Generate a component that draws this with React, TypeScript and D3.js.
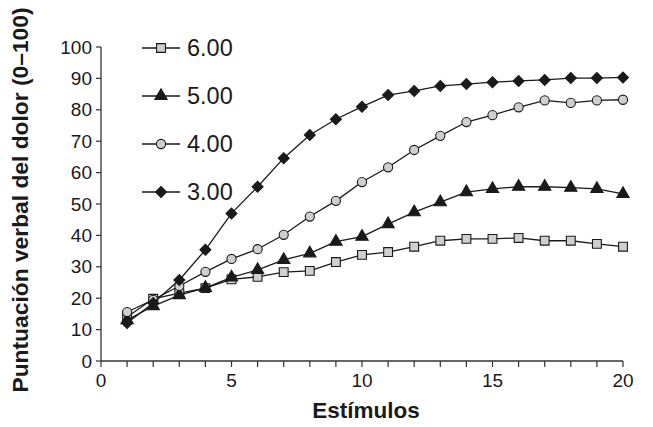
import * as d3 from 'd3'

const estimulos = d3.range(1, 21)
const s600 = [14, 19.8, 21.6, 23.2, 26, 26.8, 28.3, 28.7, 31.5, 33.8, 34.7, 36.4, 38.3, 38.9, 38.9, 39.2, 38.3, 38.3, 37.3, 36.4]
const s500 = [13, 17.5, 21, 23.3, 26.6, 29, 32.2, 34.3, 38, 39.6, 43.6, 47.4, 50.6, 53.8, 54.8, 55.5, 55.5, 55.2, 54.8, 53.2]
const s400 = [15.6, 19.5, 23.9, 28.4, 32.5, 35.6, 40.2, 46, 51, 57, 61.7, 67.2, 71.7, 76.1, 78.3, 80.8, 83, 82.2, 83, 83.2]
const s300 = [12.1, 18.5, 25.8, 35.4, 47, 55.5, 64.6, 72, 77, 81, 84.7, 86, 87.6, 88.2, 88.8, 89.2, 89.5, 90.1, 90.1, 90.3]
const seriesNames = ['6.00', '5.00', '4.00', '3.00']
const xTicks = [0, 5, 10, 15, 20]
const yTicks = d3.range(0, 101, 10)

const W = 653
const H = 427
const FONT = '"Liberation Sans", Arial, Helvetica, sans-serif'
const INK = '#1a1a1a'

const x = d3.scaleLinear().domain([0, 20]).range([101, 623])
const y = d3.scaleLinear().domain([0, 100]).range([361, 47])

// marker styles per series
const markers: { type: d3.SymbolType; size: number; fill: string; rot: number }[] = [
    { type: d3.symbolSquare, size: 78, fill: '#cfcfcf', rot: 0 },
    { type: d3.symbolTriangle, size: 66, fill: INK, rot: 0 },
    { type: d3.symbolCircle, size: 66, fill: '#cfcfcf', rot: 0 },
    { type: d3.symbolSquare, size: 60, fill: INK, rot: 45 },
]

const Marker = ({ i, cx, cy }: { i: number; cx: number; cy: number }) => {
    const m = markers[i]
    const d = d3.symbol().type(m.type).size(m.size)()
    return <path d={d || ''} transform={`translate(${cx},${cy}) rotate(${m.rot})`}
        fill={m.fill} stroke={INK} strokeWidth={1.1} />
}

const Series = ({ vals, i }: { vals: number[]; i: number }) => {
    const line = d3.line<number>().x((_, k) => x(estimulos[k])).y(v => y(v))
    return (
        <g>
            <path d={line(vals) || ''} fill="none" stroke={INK} strokeWidth={1.3} />
            {vals.map((v, k) => <Marker key={k} i={i} cx={x(estimulos[k])} cy={y(v)} />)}
        </g>
    )
}

export default function App() {
    const all = [s600, s500, s400, s300]
    const minorX = d3.range(0, 21)
    return (
        <svg width={W} height={H} style={{ position: 'absolute', left: 0, top: 0, background: '#fff' }}
            fontFamily={FONT}>
            {/* axes */}
            <line x1={x(0)} x2={x(0)} y1={y(100)} y2={y(0)} stroke="#333" strokeWidth={1.3} />
            <line x1={x(0)} x2={x(20)} y1={y(0)} y2={y(0)} stroke="#333" strokeWidth={1.3} />
            {yTicks.map(t => (
                <g key={t}>
                    <line x1={x(0) - 5} x2={x(0)} y1={y(t)} y2={y(t)} stroke="#333" strokeWidth={1.2} />
                    <text x={x(0) - 9} y={y(t)} dy="0.35em" textAnchor="end" fontSize={19} fill={INK}>{t}</text>
                </g>
            ))}
            {minorX.map(t => (
                <line key={t} x1={x(t)} x2={x(t)} y1={y(0)} y2={y(0) + 6} stroke="#333" strokeWidth={1.2} />
            ))}
            {xTicks.map(t => (
                <text key={t} x={x(t)} y={387} textAnchor="middle" fontSize={19} fill={INK}>{t}</text>
            ))}
            <text x={366} y={418} textAnchor="middle" fontSize={22.5} fontWeight="bold" fill={INK}>Estímulos</text>
            <text transform="translate(28,200) rotate(-90)" textAnchor="middle"
                fontSize={22.8} fontWeight="bold" fill={INK}>Puntuación verbal del dolor (0–100)</text>

            {all.map((vals, i) => <Series key={i} vals={vals} i={i} />)}

            {/* legend */}
            {seriesNames.map((name, i) => {
                const ly = 48 + i * 48
                return (
                    <g key={name}>
                        <line x1={142} x2={180} y1={ly} y2={ly} stroke={INK} strokeWidth={1.3} />
                        <Marker i={i} cx={161} cy={ly} />
                        <text x={187} y={ly} dy="0.36em" fontSize={23.5} fill={INK}>{name}</text>
                    </g>
                )
            })}
        </svg>
    )
}
